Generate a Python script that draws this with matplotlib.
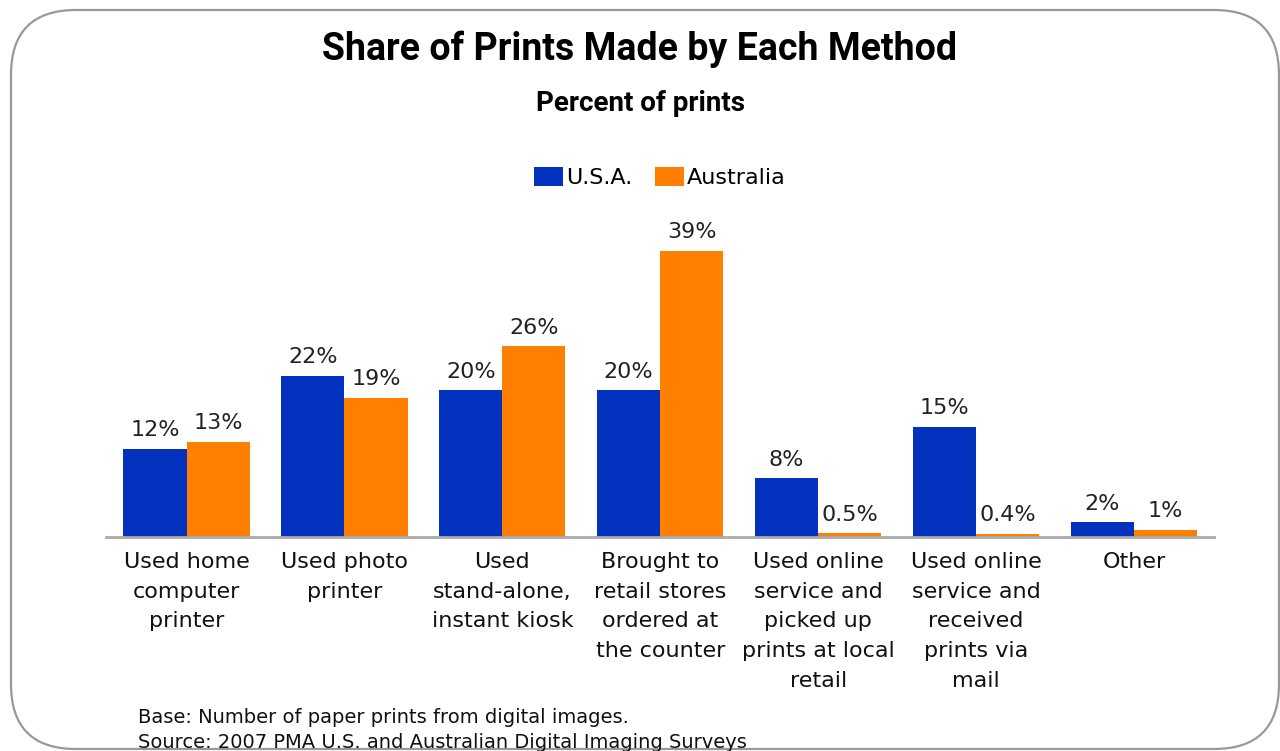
import numpy as np
import matplotlib
matplotlib.use('Agg')
from matplotlib import pyplot as plt
from matplotlib.patches import FancyBboxPatch

categories = ['Used home\ncomputer\nprinter', 'Used photo\nprinter',
              'Used\nstand-alone,\ninstant kiosk', 'Brought to\nretail stores\nordered at\nthe counter',
              'Used online\nservice and\npicked up\nprints at local\nretail',
              'Used online\nservice and\nreceived\nprints via\nmail', 'Other']
usa = [12, 22, 20, 20, 8, 15, 2]
australia = [13, 19, 26, 39, 0.5, 0.4, 1]
usa_labels = ['12%', '22%', '20%', '20%', '8%', '15%', '2%']
aus_labels = ['13%', '19%', '26%', '39%', '0.5%', '0.4%', '1%']

blue = '#0232BE'
orange = '#FF8000'
font = 'DejaVu Sans'
title_font = ['Roboto', 'DejaVu Sans']

fig = plt.figure(figsize=(12.8, 7.51), dpi=100)

# rounded frame, drawn in pixel-like units on a background axes
bg = fig.add_axes([0, 0, 1, 1], zorder=-1)
bg.set_xlim(0, 1280)
bg.set_ylim(751, 0)
bg.axis('off')
frame = FancyBboxPatch((11, 10), 1268, 739, boxstyle='round,pad=0,rounding_size=65',
                       facecolor='none', edgecolor='#999999', linewidth=1.6)
bg.add_patch(frame)

fig.text(0.5, 0.935, 'Share of Prints Made by Each Method', ha='center', va='center',
         fontsize=27, fontweight='bold', family=title_font)
fig.text(0.5, 0.862, 'Percent of prints', ha='center', va='center',
         fontsize=20, fontweight='bold', family=title_font)

ax = fig.add_axes([0.0828, 0.285, 0.866, 0.41])
x = np.arange(len(categories))
w = 0.4
ax.bar(x - w / 2, usa, w, color=blue, label='U.S.A.')
ax.bar(x + w / 2, australia, w, color=orange, label='Australia')

for i in range(len(x)):
    ax.text(x[i] - w / 2, usa[i] + 1.2, usa_labels[i], ha='center', va='bottom',
            fontsize=16, color='#222222', family=font)
    ax.text(x[i] + w / 2, australia[i] + 1.2, aus_labels[i], ha='center', va='bottom',
            fontsize=16, color='#222222', family=font)

ax.set_xlim(-0.51, 6.51)
ax.set_ylim(0, 42)
for s in ['top', 'right', 'left']:
    ax.spines[s].set_visible(False)
ax.spines['bottom'].set_color('#AAAAAA')
ax.spines['bottom'].set_linewidth(2)
ax.set_yticks([])
ax.set_xticks(x)
ax.set_xticklabels(categories, fontsize=16, family=font, linespacing=1.6, color='#111111')
ax.tick_params(axis='x', length=0, pad=11)

ax.legend(loc='center', bbox_to_anchor=(0.5, 1.166), ncol=2, frameon=False,
          handlelength=1.3, handleheight=0.9, handletextpad=0.15,
          columnspacing=1.0, prop={'family': font, 'size': 16})

fig.text(0.108, 0.045, 'Base: Number of paper prints from digital images.', fontsize=14,
         family=font, va='center', color='#111111')
fig.text(0.108, 0.011, 'Source: 2007 PMA U.S. and Australian Digital Imaging Surveys', fontsize=14,
         family=font, va='center', color='#111111')

fig.savefig('out.png', dpi=100)
